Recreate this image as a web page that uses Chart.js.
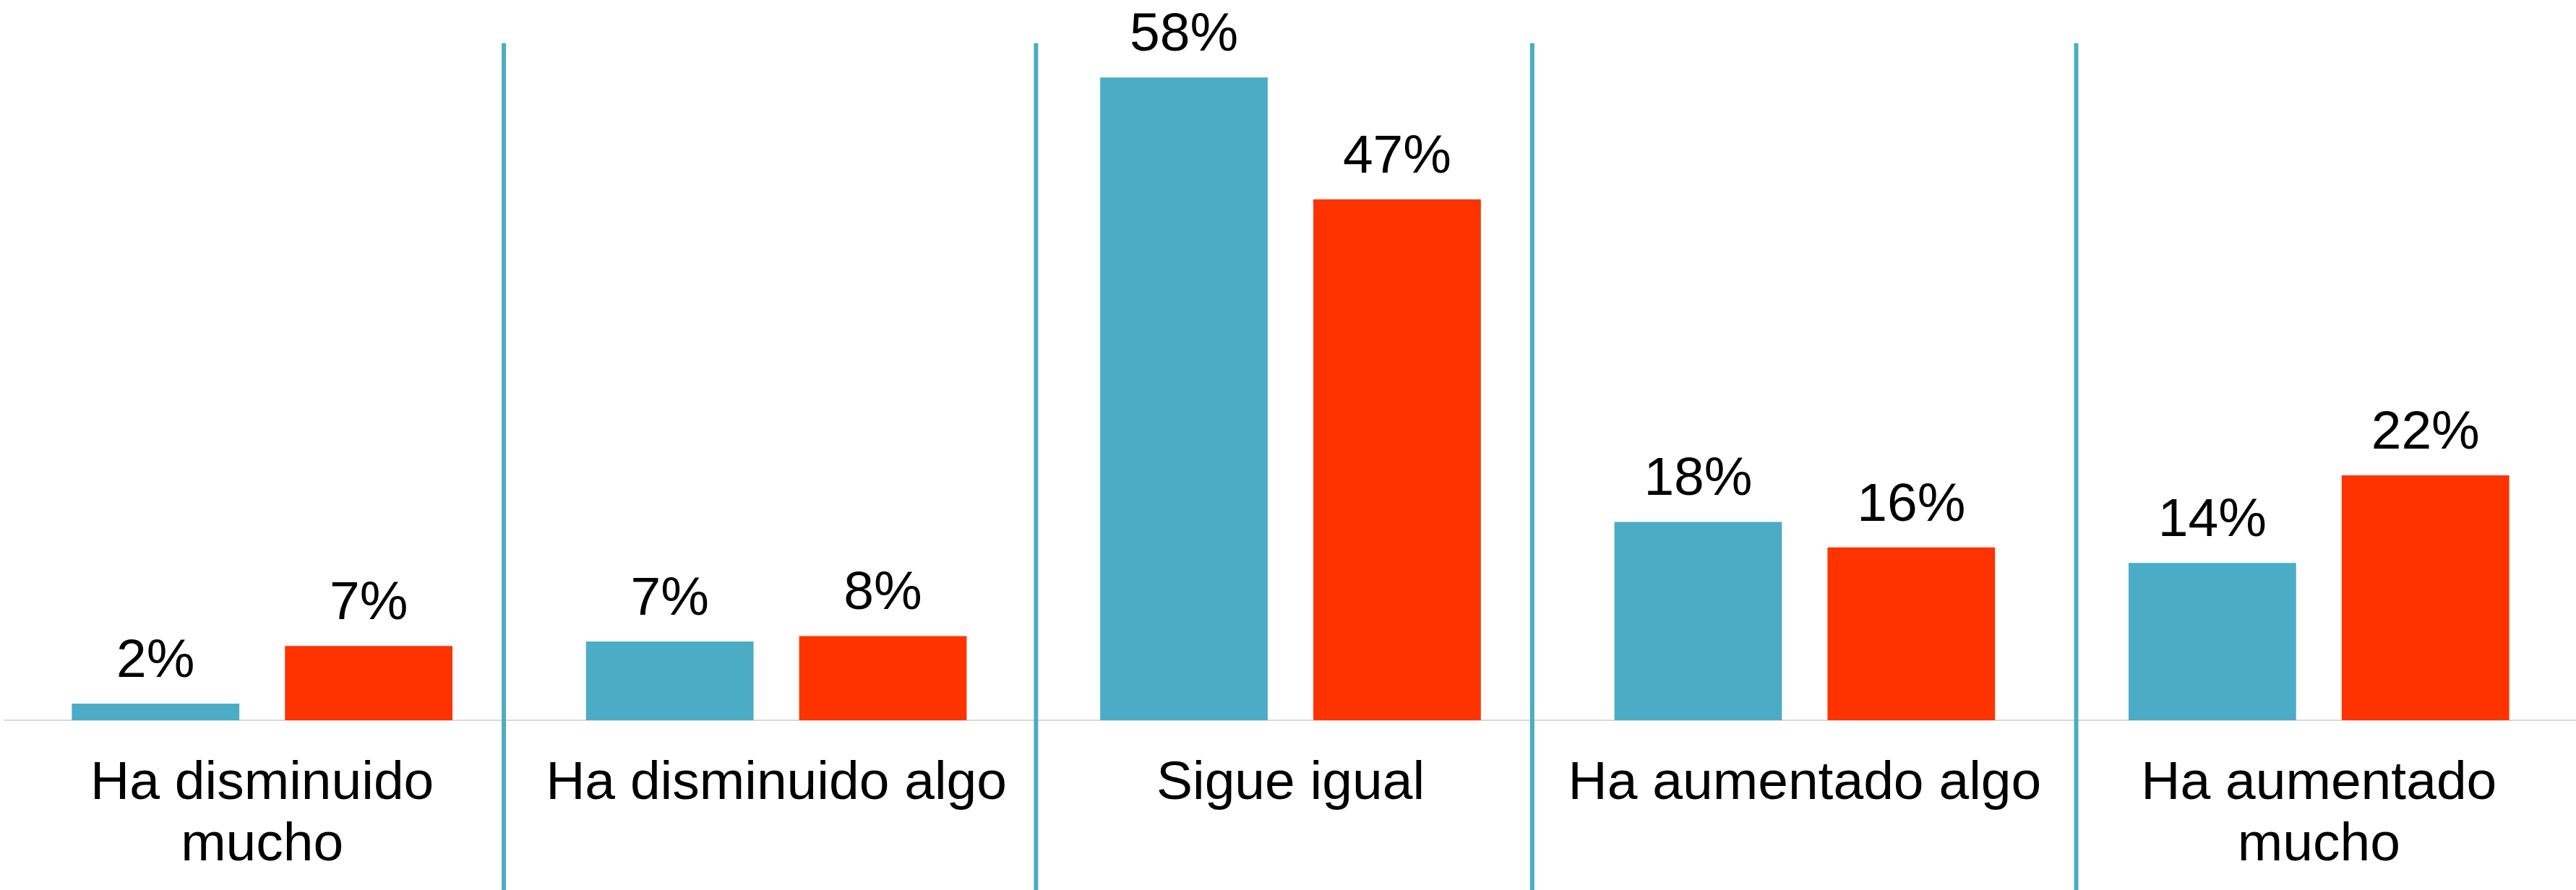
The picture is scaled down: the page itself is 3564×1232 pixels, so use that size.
<!DOCTYPE html>
<html lang="es">
<head>
<meta charset="utf-8">
<title>Gráfico</title>
<script src="https://cdn.jsdelivr.net/npm/chart.js@4.4.1/dist/chart.umd.min.js"></script>
<style>
    html, body { margin: 0; padding: 0; background: #fff; }
    #wrap { width: 3564px; height: 1232px; }
</style>
</head>
<body>
<div id="wrap"><canvas id="chart" width="3564" height="1232"></canvas></div>
<script>
var categories = [
    ["Ha disminuido", "mucho"],
    "Ha disminuido algo",
    "Sigue igual",
    "Ha aumentado algo",
    ["Ha aumentado", "mucho"]
];
var seriesA = [1.5, 7.1, 58, 17.9, 14.2];
var seriesB = [6.7, 7.6, 47, 15.6, 22.1];
var dividerAt = [0.47, 1.505, 2.47, 3.528];
var yMax = 65;
var dividerTopValue = 61.1;

var TEAL = "#4BACC6";
var RED = "#FF3300";
var FONT = "'Liberation Sans', Arial, sans-serif";

var barLabels = {
    id: "barLabels",
    afterDatasetsDraw: function(chart) {
        var ctx = chart.ctx;
        ctx.save();
        ctx.fillStyle = "#000";
        ctx.font = "75px " + FONT;
        ctx.textAlign = "center";
        ctx.textBaseline = "alphabetic";
        chart.data.datasets.forEach(function(ds, di) {
            var meta = chart.getDatasetMeta(di);
            meta.data.forEach(function(bar, i) {
                ctx.fillText(Math.round(ds.data[i]) + "%", bar.x, bar.y - 37);
            });
        });
        ctx.restore();
    }
};

var dividers = {
    id: "dividers",
    afterDraw: function(chart) {
        var ctx = chart.ctx;
        var x = chart.scales.x;
        var y = chart.scales.y;
        ctx.save();
        ctx.strokeStyle = TEAL;
        ctx.lineWidth = 6;
        dividerAt.forEach(function(v) {
            var px = x.getPixelForValue(v);
            ctx.beginPath();
            ctx.moveTo(px, y.getPixelForValue(dividerTopValue));
            ctx.lineTo(px, chart.height);
            ctx.stroke();
        });
        ctx.restore();
    }
};

new Chart(document.getElementById("chart").getContext("2d"), {
    type: "bar",
    data: {
        labels: categories,
        datasets: [{
            data: seriesA,
            backgroundColor: TEAL,
            barPercentage: 0.786,
            categoryPercentage: 0.829
        }, {
            data: seriesB,
            backgroundColor: RED,
            barPercentage: 0.786,
            categoryPercentage: 0.829
        }]
    },
    options: {
        responsive: false,
        animation: false,
        layout: { padding: { left: 7, right: 0, top: 0, bottom: 0 } },
        plugins: {
            legend: { display: false },
            tooltip: { enabled: false }
        },
        scales: {
            x: {
                grid: { display: false, drawTicks: false },
                border: { display: true, color: "#D9D9D9", width: 2 },
                ticks: {
                    color: "#000",
                    padding: 46,
                    maxRotation: 0,
                    autoSkip: false,
                    font: { family: FONT, size: 75, lineHeight: 1.13 }
                },
                afterFit: function(scale) { scale.height = 235; }
            },
            y: {
                display: false,
                min: 0,
                max: yMax
            }
        }
    },
    plugins: [barLabels, dividers]
});
</script>
</body>
</html>
